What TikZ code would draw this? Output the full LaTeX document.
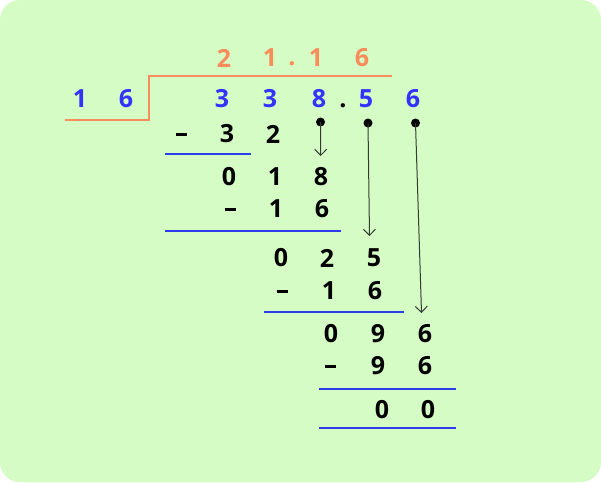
\documentclass[tikz,border=0pt]{standalone}
\usepackage{fontspec}
\setmainfont{Open Sans}
\usetikzlibrary{arrows.meta}
\definecolor{bggreen}{RGB}{213,252,196}
\definecolor{qorange}{RGB}{248,140,90}
\definecolor{dblue}{RGB}{51,51,255}
\definecolor{lblue}{RGB}{45,60,235}
\definecolor{arrgray}{RGB}{50,60,50}
\tikzset{
  dig/.style={inner sep=0pt, font=\fontsize{25}{25}\selectfont\bfseries, text=black},
  qdig/.style={dig, text=qorange},
  bdig/.style={dig, text=dblue},
  rule/.style={lblue, line width=2pt},
  bar/.style={qorange, line width=2pt},
  drop/.style={arrgray, line width=1pt, -{Straight Barb[length=6pt,width=12pt]}},
  pin/.style={circle, fill=black, inner sep=0pt, minimum size=9pt},
}
\newcommand{\mns}{\rule{11pt}{3pt}}
\begin{document}
\begin{tikzpicture}[x=1pt,y=-1pt]
\useasboundingbox (0,0) rectangle (601,482);
\fill[white] (0,0) rectangle (601,482);
\fill[bggreen, rounded corners=20pt] (0,0) rectangle (601,482);
% quotient
\node[qdig] (q1) at (224,58) {2};
\node[qdig] (q2) at (270,58) {1};
\node[qdig] (q3) at (292,63.5) {.};
\node[qdig] (q4) at (316,58) {1};
\node[qdig] (q5) at (362,58) {6};
% bracket
\coordinate (b1) at (65,120);
\coordinate (b2) at (149,120);
\coordinate (b3) at (149,76);
\coordinate (b4) at (392,76);
\draw[bar] (b1) -- (b2) -- (b3) -- (b4);
% divisor
\node[bdig] (d1) at (80,99) {1};
\node[bdig] (d2) at (126,99) {6};
% dividend
\node[bdig] (n1) at (222,99) {3};
\node[bdig] (n2) at (270,99) {3};
\node[bdig] (n3) at (319,99) {8};
\node[dig] (np) at (343,106) {.};
\node[bdig] (n4) at (366,99) {5};
\node[bdig] (n5) at (413,99) {6};
% step 1
\node[dig] (m1) at (181,134) {\mns};
\node[dig] (s12) at (227,134) {3};
\node[dig] (s13) at (273,134) {2};
\coordinate (l1a) at (165,154);
\coordinate (l1b) at (251,154);
\draw[rule] (l1a) -- (l1b);
% row 018
\node[dig] (r10) at (229,177) {0};
\node[dig] (r11) at (275,177) {1};
\node[dig] (r12) at (321,177) {8};
\node[dig] (m2) at (230,209) {\mns};
\node[dig] (s21) at (276,209) {1};
\node[dig] (s22) at (322,209) {6};
\coordinate (l2a) at (165,231);
\coordinate (l2b) at (341,231);
\draw[rule] (l2a) -- (l2b);
% row 025
\node[dig] (r20) at (281,258) {0};
\node[dig] (r21) at (327,258) {2};
\node[dig] (r22) at (374,258) {5};
\node[dig] (m3) at (282,291) {\mns};
\node[dig] (s31) at (329,291) {1};
\node[dig] (s32) at (375,291) {6};
\coordinate (l3a) at (264,311.5);
\coordinate (l3b) at (404,311.5);
\draw[rule] (l3a) -- (l3b);
% row 096
\node[dig] (r30) at (331,334) {0};
\node[dig] (r31) at (378,334) {9};
\node[dig] (r32) at (425,334) {6};
\node[dig] (m4) at (330,366) {\mns};
\node[dig] (s41) at (378,366) {9};
\node[dig] (s42) at (425,366) {6};
\coordinate (l4a) at (319,389);
\coordinate (l4b) at (456,389);
\draw[rule] (l4a) -- (l4b);
% final
\node[dig] (f1) at (382,410) {0};
\node[dig] (f2) at (428,410) {0};
\coordinate (l5a) at (319,428);
\coordinate (l5b) at (456,428);
\draw[rule] (l5a) -- (l5b);
% bring-down pins and arrows
\node[pin] (p1) at (320.5,122) {};
\node[pin] (p2) at (368,123) {};
\node[pin] (p3) at (415.5,123) {};
\coordinate (t1) at (320.7,156);
\coordinate (t2) at (369.5,236);
\coordinate (t3) at (421.5,313);
\draw[drop] (p1.center) -- (t1);
\draw[drop] (p2.center) -- (t2);
\draw[drop] (p3.center) -- (t3);
\end{tikzpicture}
\end{document}
